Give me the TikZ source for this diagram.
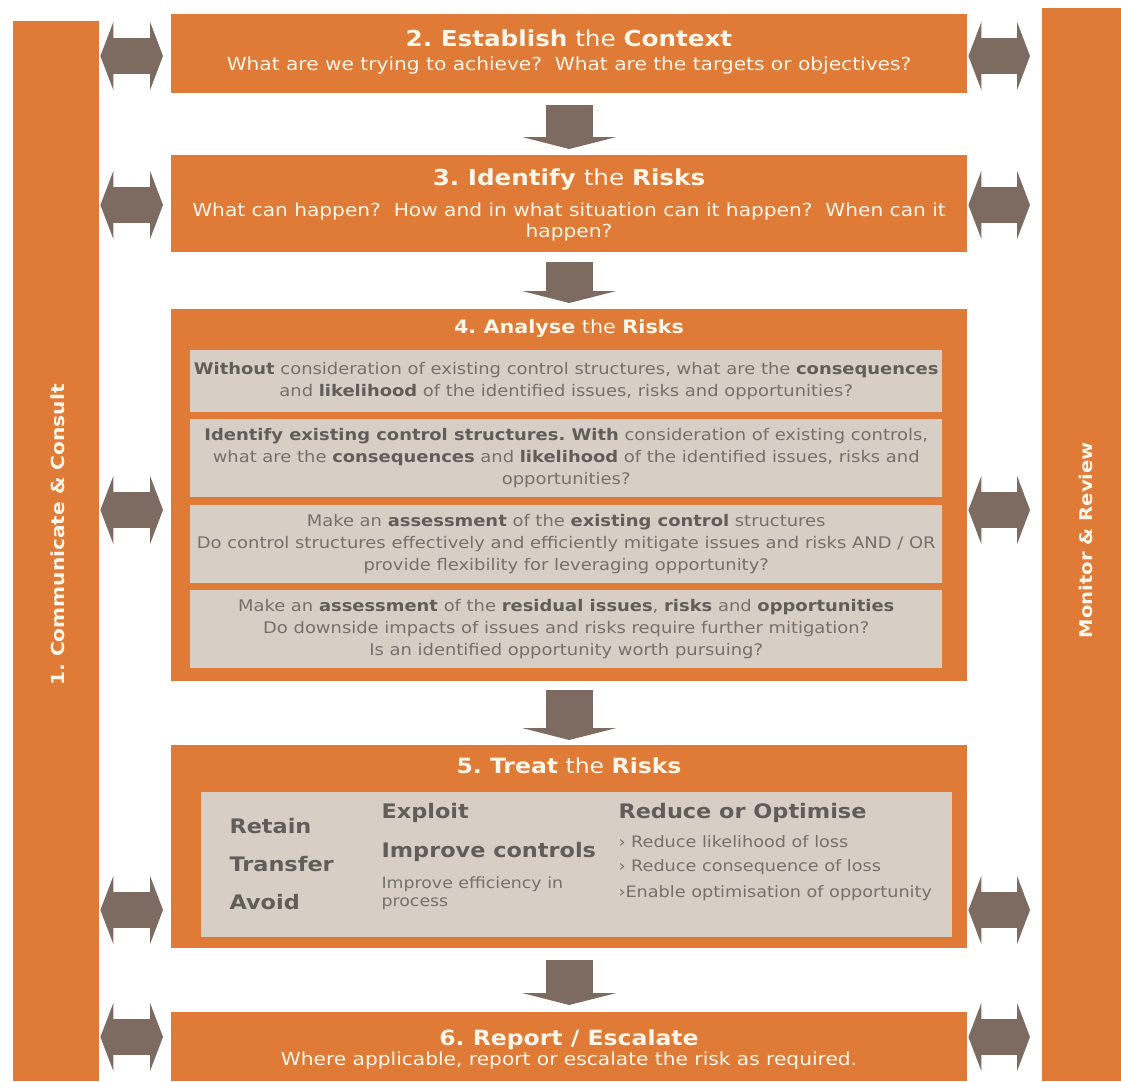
\documentclass[tikz,border=0pt]{standalone}
\usepackage{fontspec}
\setmainfont[FakeStretch=1.12]{DejaVu Sans}
\usepackage{tikz}
\usetikzlibrary{arrows.meta,positioning}
\definecolor{riskorange}{RGB}{223,123,55}
\definecolor{arrowgrey}{RGB}{125,106,96}
\definecolor{panelgrey}{RGB}{215,206,198}
\definecolor{paneltext}{RGB}{118,112,108}
\definecolor{panelbold}{RGB}{98,93,90}
\definecolor{cream}{RGB}{255,246,234}
\newcommand\panelkey[1]{\textbf{\color{panelbold}#1}}
\frenchspacing

\begin{document}
\begin{tikzpicture}[x=1pt, y=-1pt,
  bar/.style={fill=riskorange, inner sep=0pt, anchor=north west},
  stage/.style={fill=riskorange, inner sep=0pt, anchor=north west, minimum width=796pt},
  headline/.style={text=cream, font=\fontsize{22}{26}\selectfont},
  subline/.style={text=cream, align=center, font=\fontsize{18}{20.5}\selectfont},
  sidelabel/.style={rotate=90, text=cream, font=\bfseries\fontsize{18}{20}\selectfont},
  panel/.style={fill=panelgrey, inner sep=0pt, anchor=north west, text=paneltext, align=center, font=\fontsize{16}{22}\selectfont},
  flowarrow/.style={color=arrowgrey, line width=47pt, -{Triangle[width=94pt, length=12pt]}},
  linkarrow/.style={color=arrowgrey, line width=36pt, {Triangle[width=68pt, length=13pt]}-{Triangle[width=68pt, length=13pt]}},
  option/.style={anchor=west, text=panelbold, font=\bfseries\fontsize{20}{22}\selectfont},
  detail/.style={anchor=west, text=paneltext, font=\fontsize{15.75}{18}\selectfont, align=left},
]
\useasboundingbox (0,0) rectangle (1121,1081);

% side bars
\node[bar, minimum width=86pt, minimum height=1060pt] (lbar) at (13,21) {};
\node[bar, minimum width=79pt, minimum height=1073pt] (rbar) at (1042,8) {};
\node[sidelabel] (commlabel) at (58,535) {1. Communicate \& Consult};
\node[sidelabel, font=\bfseries\fontsize{17.5}{20}\selectfont] (monlabel) at (1086,540) {Monitor \& Review};

% process stages
\node[stage, minimum height=79pt] (b2) at (171,14) {};
\node[stage, minimum height=97pt] (b3) at (171,155) {};
\node[stage, minimum height=372pt] (b4) at (171,309) {};
\node[stage, minimum height=203pt] (b5) at (171,745) {};
\node[stage, minimum height=69pt] (b6) at (171,1012) {};

\node[headline] (b2title) at (569,38) {\textbf{2. Establish} the \textbf{Context}};
\node[subline] (b2sub) at (569,66) {What are we trying to achieve?\ \ What are the targets or objectives?};
\node[headline] (b3title) at (569,180) {\textbf{3. Identify} the \textbf{Risks}};
\node[subline] (b3sub) at (569,222) {What can happen?\ \ How and in what situation can it happen?\ \ When can it\\happen?};
\node[headline, font=\fontsize{18.5}{20}\selectfont] (b4title) at (569,328) {\textbf{4. Analyse} the \textbf{Risks}};
\node[headline, font=\fontsize{21}{24}\selectfont] (b5title) at (569,766) {\textbf{5. Treat} the \textbf{Risks}};
\node[headline, font=\fontsize{21}{24}\selectfont] (b6title) at (569,1040) {\textbf{6. Report / Escalate}};
\node[subline] (b6sub) at (569,1061) {Where applicable, report or escalate the risk as required.};

% analysis panels
\node[panel, minimum width=752pt, minimum height=62pt] (g1) at (190,350)
  {\panelkey{Without} consideration of existing control structures, what are the \panelkey{consequences}\\
   and \panelkey{likelihood} of the identified issues, risks and opportunities?};
\node[panel, minimum width=752pt, minimum height=78pt] (g2) at (190,419)
  {\panelkey{Identify existing control structures. With} consideration of existing controls,\\
   what are the \panelkey{consequences} and \panelkey{likelihood} of the identified issues, risks and\\
   opportunities?};
\node[panel, minimum width=752pt, minimum height=78pt] (g3) at (190,505)
  {Make an \panelkey{assessment} of the \panelkey{existing control} structures\\
   Do control structures effectively and efficiently mitigate issues and risks AND / OR\\
   provide flexibility for leveraging opportunity?};
\node[panel, minimum width=752pt, minimum height=78pt] (g4) at (190,590)
  {Make an \panelkey{assessment} of the \panelkey{residual issues}, \panelkey{risks} and \panelkey{opportunities}\\
   Do downside impacts of issues and risks require further mitigation?\\
   Is an identified opportunity worth pursuing?};

% treatment panel
\node[panel, minimum width=751pt, minimum height=145pt] (g5) at (201,792) {};
\foreach \name/\y/\word in {retain/826/Retain, transfer/864/Transfer, avoid/902/Avoid}
  \node[option] (\name) at (226,\y) {\word};
\node[option] (exploit) at (378,813) {Exploit};
\node[option] (improve) at (378,852) {Improve controls};
\node[detail, font=\fontsize{15.5}{18}\selectfont] (efficiency) at (378,893) {Improve efficiency in\\process};
\node[option] (reduce) at (615,813) {Reduce or Optimise};
\foreach \name/\y/\txt in {likely/842/› Reduce likelihood of loss, conseq/867/› Reduce consequence of loss, enable/893/›Enable optimisation of opportunity}
  \node[detail] (\name) at (615,\y) {\txt};

% flow between stages
\foreach \a/\b/\s/\e in {b2/b3/12pt/6pt, b3/b4/10pt/6pt, b4/b5/9pt/5pt, b5/b6/12pt/7pt}
  \draw[flowarrow, shorten <=\s, shorten >=\e] (\a.south) -- (\b.north);

% links to the side bars
\foreach \b/\y in {b2/56, b3/205, b4/510, b5/910, b6/1037} {
  \draw[linkarrow, shorten <=1pt, shorten >=8pt] (lbar.east |- 0,\y) -- (\b.west |- 0,\y);
  \draw[linkarrow, shorten <=1pt, shorten >=12pt] (\b.east |- 0,\y) -- (rbar.west |- 0,\y);
}
\end{tikzpicture}
\end{document}
